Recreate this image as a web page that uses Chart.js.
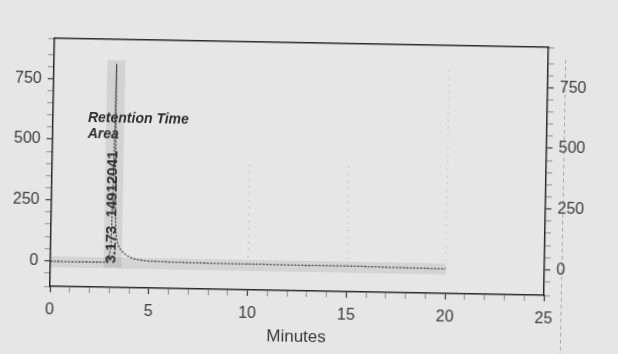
<!DOCTYPE html>
<html>
<head>
<meta charset="utf-8">
<script src="https://cdn.jsdelivr.net/npm/chart.js@4"></script>
<style>
  html, body { margin: 0; padding: 0; background: #e6e6e6; overflow: hidden; }
  #wrap { width: 618px; height: 354px; transform: rotate(1.05deg); transform-origin: 50% 50%; }
</style>
</head>
<body>
<div id="wrap"><canvas id="chart" width="618" height="354"></canvas></div>
<script>
// detector trace (minutes / signal)
const timeMin = [0, 0.5, 1, 1.5, 2, 2.5, 2.9, 3.05, 3.12, 3.17, 3.22, 3.28, 3.34, 3.45, 3.55, 3.66, 3.8, 4.0, 4.3, 4.7, 5, 6, 7, 8, 9, 10, 11, 12, 13, 14, 15, 16, 17, 18, 19, 20];
const signal  = [-3, -3, -4, -3, -3, -3, -2, 60, 420, 815, 300, 125, 85, 62, 50, 40, 30, 20, 12, 7, 5, 3, 2, 1, 1, 1, 0, 0, -1, 0, 0, -1, -2, -3, -4, -5];

// grey smudges from the scan
const peakBandX = [3.15, 3.15];
const peakBandY = [-25, 830];
const baseBandX = [0, 20];
const baseBandY = [-5, -5];

// faint dotted event marks
const markTimes = [10, 15, 20];
const markTops = [430, 420, 820];

const xTicks = [0, 5, 10, 15, 20, 25];
const yTicks = [0, 250, 500, 750];

const noteLines = ['Retention Time', 'Area'];
const noteX = 1.77;
const noteY = [573, 507];
const peakLabel = '3.173  14912041';
const peakLabelX = 3.1;
const peakLabelY = -7;

const ink = '#3a3a3a';
const font = { family: 'Liberation Sans, Arial, sans-serif', size: 16 };

const toXY = (xs, ys) => xs.map((x, i) => ({ x: x, y: ys[i] }));

const datasets = [{
    data: toXY(timeMin, signal),
    borderColor: '#404040',
    borderWidth: 1.3,
    borderDash: [2, 1.5],
    pointRadius: 0,
    order: 0
}];

markTimes.forEach((t, i) => {
    datasets.push({
        data: toXY([t, t], [0, markTops[i]]),
        borderColor: 'rgba(70,70,70,0.4)',
        borderWidth: 1,
        borderDash: [1, 6],
        pointRadius: 0,
        order: 1
    });
});

datasets.push({
    data: toXY(peakBandX, peakBandY),
    borderColor: 'rgba(120,120,120,0.17)',
    borderWidth: 18,
    borderCapStyle: 'butt',
    pointRadius: 0,
    order: 2
});
datasets.push({
    data: toXY(baseBandX, baseBandY),
    borderColor: 'rgba(120,120,120,0.16)',
    borderWidth: 11,
    borderCapStyle: 'butt',
    pointRadius: 0,
    order: 3
});

const tickLabel = list => v => list.includes(v) ? v : '';
const tickShade = list => ctx => (ctx.tick && list.includes(ctx.tick.value)) ? ink : '#9a9a9a';

const notes = {
    id: 'notes',
    beforeDraw(chart) {
        // scanner streak on the right
        const c = chart.ctx;
        c.save();
        c.strokeStyle = 'rgba(80,80,80,0.4)';
        c.lineWidth = 1;
        c.setLineDash([4, 3]);
        c.beginPath();
        c.moveTo(563.5, 55);
        c.lineTo(563.5, 354);
        c.stroke();
        c.restore();
    },
    afterDatasetsDraw(chart) {
        const c = chart.ctx;
        const xs = chart.scales.x, ys = chart.scales.y;
        c.save();
        c.fillStyle = '#2e2e2e';
        c.font = 'italic bold 14px Liberation Sans, Arial, sans-serif';
        c.textAlign = 'left';
        c.textBaseline = 'alphabetic';
        noteLines.forEach((t, i) => c.fillText(t, xs.getPixelForValue(noteX), ys.getPixelForValue(noteY[i])));

        c.translate(xs.getPixelForValue(peakLabelX), ys.getPixelForValue(peakLabelY));
        c.rotate(-Math.PI / 2);
        c.font = 'bold 15px Liberation Sans, Arial, sans-serif';
        c.textBaseline = 'middle';
        c.fillText(peakLabel, 0, 0);
        c.restore();
    }
};

const yAxis = (pos, w) => ({
    type: 'linear',
    position: pos,
    min: -106,
    max: 916,
    afterFit: s => { s.width = w; },
    ticks: { stepSize: 50, autoSkip: false, callback: tickLabel(yTicks), color: ink, font: font, padding: 6 },
    grid: { drawOnChartArea: false, tickLength: 6, tickColor: tickShade(yTicks), tickWidth: 1.2 },
    border: { color: '#2a2a2a', width: 1.5 }
});

new Chart(document.getElementById('chart'), {
    type: 'line',
    data: { datasets: datasets },
    plugins: [notes],
    options: {
        responsive: false,
        animation: false,
        devicePixelRatio: 1,
        layout: { padding: { top: 43, left: 0, right: 0, bottom: 0 } },
        plugins: { legend: { display: false }, tooltip: { enabled: false } },
        scales: {
            x: {
                type: 'linear',
                position: 'bottom',
                min: 0,
                max: 25,
                afterFit: s => { s.height = 63; },
                ticks: { stepSize: 1, autoSkip: false, maxRotation: 0, callback: tickLabel(xTicks), color: ink, font: font, padding: 8 },
                grid: { drawOnChartArea: false, tickLength: 6, tickColor: tickShade(xTicks), tickWidth: 1.2 },
                border: { color: '#2a2a2a', width: 1.5 },
                title: { display: true, text: 'Minutes', color: ink, font: { family: font.family, size: 17 }, padding: { top: 0, bottom: 6 } }
            },
            x2: {
                type: 'linear',
                position: 'top',
                min: 0,
                max: 25,
                afterFit: s => { s.height = 0; },
                ticks: { display: false },
                grid: { drawOnChartArea: false, drawTicks: false },
                border: { color: '#2a2a2a', width: 1.5 }
            },
            y: yAxis('left', 52),
            y2: yAxis('right', 72)
        }
    }
});
</script>
</body>
</html>
